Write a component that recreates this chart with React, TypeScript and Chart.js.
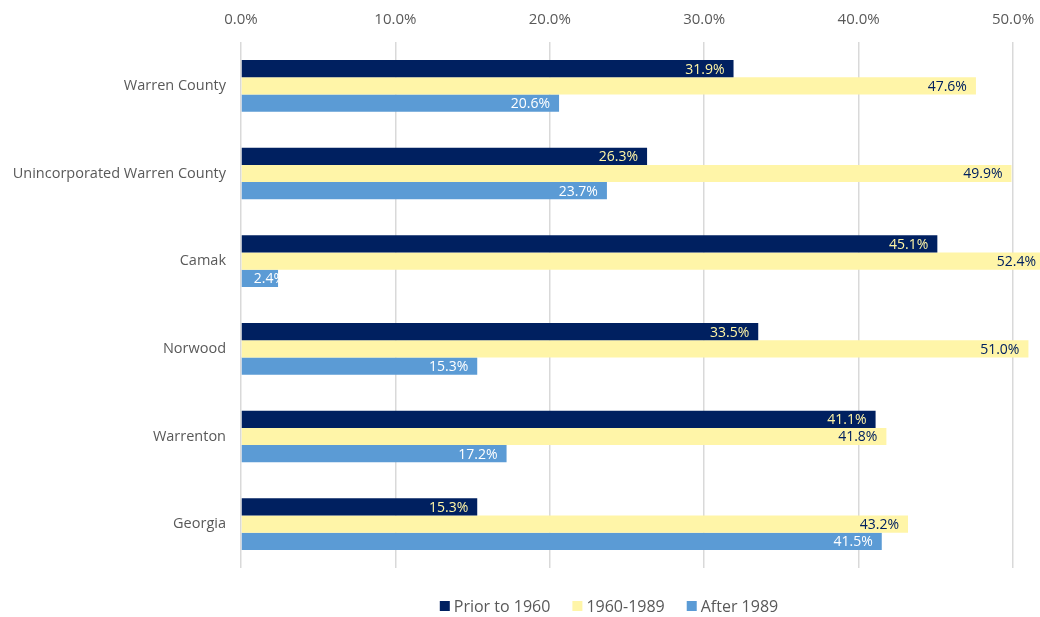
import React, { useEffect, useRef } from "react";
import { Chart, registerables } from "chart.js";

Chart.register(...registerables);

const categories = [
  "Warren County",
  "Unincorporated Warren County",
  "Camak",
  "Norwood",
  "Warrenton",
  "Georgia",
];
const prior1960 = [31.9, 26.3, 45.1, 33.5, 41.1, 15.3];
const y1960to1989 = [47.6, 49.9, 52.4, 51.0, 41.8, 43.2];
const after1989 = [20.6, 23.7, 2.4, 15.3, 17.2, 41.5];
const seriesNames = ["Prior to 1960", "1960-1989", "After 1989"];
const xTicks = [0, 10, 20, 30, 40, 50];

const FONT = "'Open Sans', sans-serif";
const seriesColors = ["#002060", "#FFF5A8", "#5B9BD5"];
const labelColors = ["#FFF5A5", "#002060", "#FFFFFF"];

const dataLabelPlugin = {
  id: "barLabels",
  afterDatasetsDraw(chart: any) {
    const ctx = chart.ctx;
    ctx.save();
    ctx.font = `14px ${FONT}`;
    ctx.textBaseline = "middle";
    chart.data.datasets.forEach((ds: any, di: number) => {
      const meta = chart.getDatasetMeta(di);
      meta.data.forEach((el: any, i: number) => {
        const v = ds.data[i];
        const text = v.toFixed(1) + "%";
        const tw = ctx.measureText(text).width;
        const barW = el.x - el.base;
        ctx.fillStyle = labelColors[di];
        if (tw + 14 > barW) {
          ctx.save();
          ctx.beginPath();
          ctx.rect(el.base, el.y - el.height / 2, barW, el.height);
          ctx.clip();
          ctx.textAlign = "left";
          ctx.fillText(text, el.base + 12, el.y + 1);
          ctx.restore();
        } else {
          ctx.textAlign = "right";
          const x = Math.min(el.x - 9, chart.width - 4);
          ctx.fillText(text, x, el.y + 1);
        }
      });
    });
    ctx.restore();
  },
};

const legendPlugin = {
  id: "customLegend",
  afterDraw(chart: any) {
    const ctx = chart.ctx;
    ctx.save();
    ctx.font = `16px ${FONT}`;
    ctx.textBaseline = "middle";
    ctx.textAlign = "left";
    const boxW = 10;
    const gapBoxText = 4;
    const gapItems = 22;
    const widths = seriesNames.map((n) => ctx.measureText(n).width);
    const total =
      widths.reduce((a: number, b: number) => a + b, 0) +
      seriesNames.length * (boxW + gapBoxText) +
      (seriesNames.length - 1) * gapItems;
    const center = 609;
    let x = center - total / 2;
    const y = 606;
    seriesNames.forEach((n, i) => {
      ctx.fillStyle = seriesColors[i];
      ctx.fillRect(x, y - 5, boxW, boxW);
      x += boxW + gapBoxText;
      ctx.fillStyle = "#595959";
      ctx.fillText(n, x, y + 1);
      x += widths[i] + gapItems;
    });
    ctx.restore();
  },
};

export default function App() {
  const ref = useRef<HTMLCanvasElement>(null);
  useEffect(() => {
    document.body.style.margin = "0";
    const chart = new Chart(ref.current!, {
      type: "bar",
      data: {
        labels: categories,
        datasets: seriesNames.map((name, i) => ({
          label: name,
          data: [prior1960, y1960to1989, after1989][i],
          backgroundColor: seriesColors[i],
          clip: false as any,
        })),
      },
      options: {
        indexAxis: "y",
        responsive: false,
        animation: false,
        maintainAspectRatio: false,
        layout: { padding: { left: 0, right: 27, top: 0, bottom: 49 } },
        datasets: { bar: { categoryPercentage: 0.59, barPercentage: 1.0 } },
        scales: {
          x: {
            position: "top",
            min: 0,
            max: 50,
            afterBuildTicks(scale: any) {
              scale.ticks = xTicks.map((v) => ({ value: v }));
            },
            afterFit(scale: any) {
              scale.height = 42;
              scale.paddingLeft = 0;
              scale.paddingRight = 0;
            },
            ticks: {
              callback: (v: any) => Number(v).toFixed(1) + "%",
              color: "#595959",
              font: { family: FONT, size: 15 },
              padding: 13,
              maxRotation: 0,
            },
            grid: { color: "#D9D9D9", lineWidth: 1.5, drawTicks: false },
            border: { display: false },
          },
          y: {
            afterFit(scale: any) {
              scale.width = 241;
            },
            ticks: {
              color: "#595959",
              font: { family: FONT, size: 14.5 },
              padding: 15,
            },
            grid: { display: false, drawTicks: false },
            border: { display: false },
          },
        },
        plugins: {
          legend: { display: false },
          tooltip: { enabled: false },
        },
      },
      plugins: [dataLabelPlugin, legendPlugin],
    });
    return () => chart.destroy();
  }, []);
  return (
    <div style={{ position: "absolute", left: 0, top: 0, width: 1040, height: 617 }}>
      <canvas ref={ref} width={1040} height={617} style={{ width: 1040, height: 617 }} />
    </div>
  );
}
